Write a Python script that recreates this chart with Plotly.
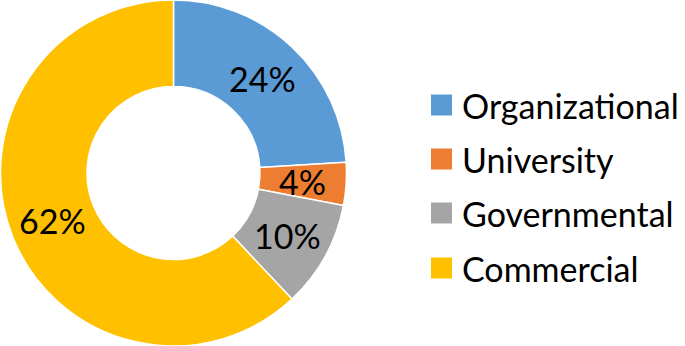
import math
import plotly.graph_objects as go

labels = ["Organizational", "University", "Governmental", "Commercial"]
values = [24, 4, 10, 62]
colors = ["#5B9BD5", "#ED7D31", "#A5A5A5", "#FFC000"]

FONT = "Lato"
FS = 34
W, H = 685, 346
HOLE = 0.5

fig = go.Figure()
fig.add_trace(go.Pie(
    labels=labels,
    values=values,
    sort=False,
    direction="clockwise",
    rotation=0,
    hole=HOLE,
    marker=dict(colors=colors, line=dict(color="white", width=1.5)),
    textinfo="none",
    domain=dict(x=[0, 347 / W], y=[0, 1]),
    showlegend=False,
))

annotations = []
shapes = []

# Percent labels placed at mid-ring of each slice (Excel-style), derived from values
cx, cy = 347 / 2, H / 2
R = min(347, H) / 2
rmid = R * (1 + HOLE) / 2
total = sum(values)
cum = 0
for v in values:
    mid = (cum + v / 2) / total * 2 * math.pi
    cum += v
    px = cx + rmid * math.sin(mid)
    py = cy - rmid * math.cos(mid)
    annotations.append(dict(xref="paper", yref="paper", x=px / W, y=1 - py / H,
                            text=f"{round(100 * v / total)}%", showarrow=False,
                            xanchor="center", yanchor="middle",
                            font=dict(family=FONT, size=FS, color="black")))

# Legend drawn as shapes + annotations from the data arrays
row_y = [105, 159, 213, 268]
for lab, col, yc in zip(labels, colors, row_y):
    shapes.append(dict(type="rect", xref="paper", yref="paper",
                       x0=431 / W, x1=452 / W,
                       y0=1 - (yc + 10.5) / H, y1=1 - (yc - 10.5) / H,
                       fillcolor=col, line=dict(width=0)))
    annotations.append(dict(xref="paper", yref="paper", x=460 / W, y=1 - yc / H,
                            text=lab, showarrow=False, xanchor="left", yanchor="middle",
                            font=dict(family=FONT, size=FS, color="black")))

fig.update_layout(
    width=W, height=H,
    margin=dict(l=0, r=0, t=0, b=0),
    paper_bgcolor="white", plot_bgcolor="white",
    shapes=shapes, annotations=annotations,
)
fig.write_html("out.html", config={"displayModeBar": False},
               post_script="document.body.style.margin='0px';")
